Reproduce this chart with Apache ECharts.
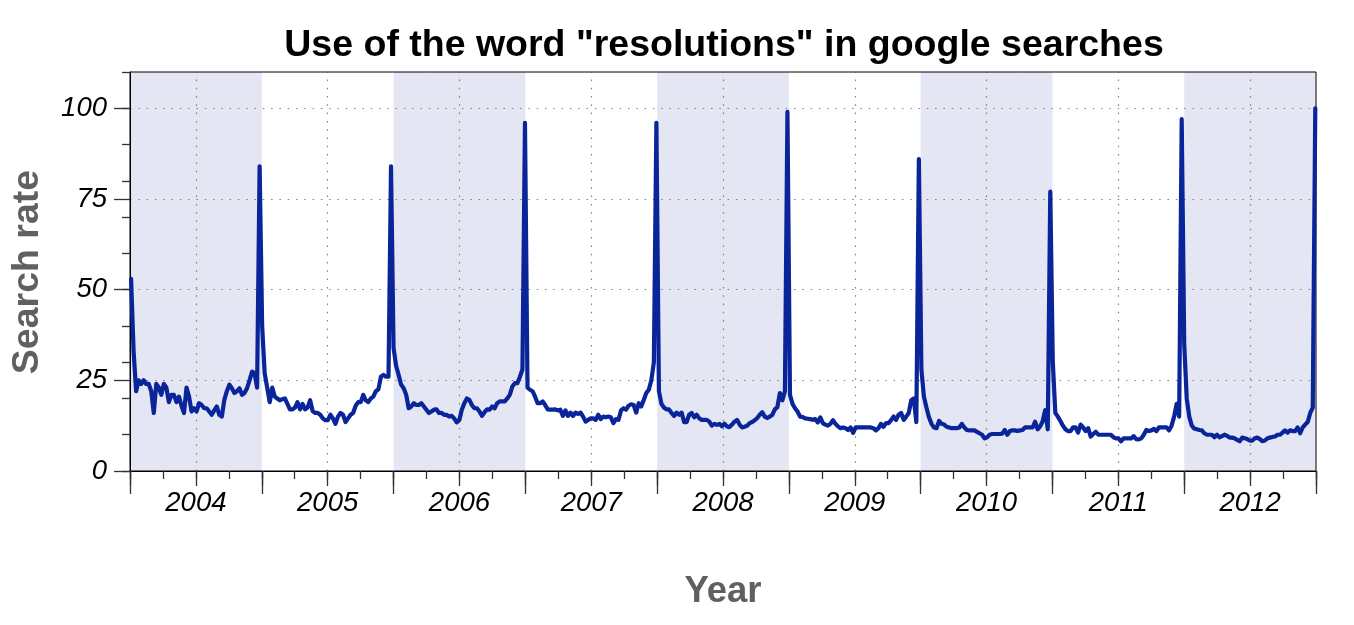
<!DOCTYPE html>
<html><head><meta charset="utf-8">
<script src="https://cdn.jsdelivr.net/npm/echarts@6/dist/echarts.min.js"></script>
<style>html,body{margin:0;padding:0;background:#fff}#c{width:1354px;height:625px}</style>
</head><body><div id="c"></div>
<script>
const chartTitle = 'Use of the word "resolutions" in google searches';
const xName = 'Year';
const yName = 'Search rate';
const firstWeek = [2004, 0, 4]; // week starting 2004-01-04, weekly data
const years = [2004, 2005, 2006, 2007, 2008, 2009, 2010, 2011, 2012];
const shadedYears = [2004, 2006, 2008, 2010, 2012];
const yTicks = [0, 25, 50, 75, 100];

const v2004 = [53,33,22,25,24,25,24,24,22,16,24,23,21,24,23,19,21,21,19,20.5,18,16,23,20.5,16.4,17.3,16.4,18.7,18.2,17.3,17.3,16.4,15.5,16.7,17.8,15.5,15,19.6,22,23.8,22.8,21.5,22,22.8,21,21.5,22.8,25,27.4,27,23,84];
const v2005 = [40,27,23,19,23,20.5,20,19.5,19.8,20,18.5,17,17,17.5,19,17,18.5,17,17.5,19.5,16.5,16,16,15.5,14.5,14,14,15.5,14.5,13,15,16,15.5,13.5,14.5,15.5,16,18,19,19,21,19.5,19,20,20.5,22,22.5,26,26.5,26,26,84];
const v2006 = [34,29,26.5,23.8,22.8,21,17.3,17.8,18.7,18.2,18.2,18.7,17.8,16.9,16,16.4,16.9,17,16,16,15.5,15.5,15,15.2,14.5,13.4,14,16.9,18.7,20,19.6,18.2,17.3,17.3,16.4,15.2,16.2,17,16.9,17.8,17.3,18.7,19.2,19.2,19.2,20,21,23.3,24.2,24.2,26,28,96];
const v2007 = [23,22.4,22,20.5,18.7,18.7,19.2,18.2,17,16.9,16.9,17,16.7,16.9,15.2,16.7,15.2,16.1,15.2,16.1,15.7,16.1,15,13.6,14.1,14.5,14.5,14.1,15.5,14.3,15,14.8,15,14.8,13.2,14.3,14.1,16.7,17.3,16.9,18,18.4,18.2,16.1,18.7,17.8,19.6,21.5,22.4,25,30,96];
const v2008 = [22,18.5,17.5,17,17,16,15.2,16.1,15.5,16.1,13.5,13.5,15.5,16,14.8,15.5,14.5,14.1,14.1,14.1,13.6,12.5,13,12.7,13,12.3,13,12.3,12.1,12.8,13.6,14.1,12.8,12,12.2,12.5,13.2,13.5,14,14.6,15.5,16.2,15,14.6,15,15.5,17,17.6,21.5,19.5,22,99];
const v2009 = [21,18.5,17.3,16.4,15,14.9,14.5,14.4,14.3,14.1,14.3,13.4,14.8,13.2,12.8,12.5,13,14,13,12.3,11.8,12,11.8,11.3,12,10.5,12,12,12,12,12,12,12,11.8,11.2,11.8,13,12.2,13.2,13.2,14,15,14.1,15.5,16,14.1,15,16,19.5,20,13.5,86];
const v2010 = [28,20.5,17.5,14.8,13,12,11.8,13.8,13,12.8,12.2,12,11.8,11.8,11.8,12,13,12,11.3,11.2,11.2,11.2,10.8,10.4,10,9,9.3,10,10.2,10.2,10.2,10.2,10.3,11.3,10,11,11.2,11.2,11,11.2,11.3,12,12,12,12,13.6,11.5,12.3,13.7,16.8,11.5,77];
const v2011 = [30,16,15,13.8,12.5,11.5,11,11,12,12,10.6,12.8,12,11,11.8,9.5,10.2,10.8,10,10,10,10,10,10,9.3,9,9,8.2,9,9,9,9,9.6,8.8,8.7,9,10,11.3,11,11.2,11.6,11,12,12,12,12,11.2,12.5,15,18.5,15,97];
const v2012 = [35,20,15,12.5,11.7,11.5,11.3,11.2,10.4,10,10,10,9.3,10,9.3,9.6,10,9.7,9.2,9.2,9,8.6,8.2,9.2,9,8.8,8.4,8.4,9,9.2,8.8,8.2,8.4,9,9.2,9.4,9.5,10,10,10.6,11.2,10.6,11.2,11,11,12,10.4,12,12.8,13.5,16,17.5,100];

const weekly = [].concat(v2004, v2005, v2006, v2007, v2008, v2009, v2010, v2011, v2012);
const DAY = 86400000;
const t0 = Date.UTC(firstWeek[0], firstWeek[1], firstWeek[2]);
function decYear(t) {
  const y = new Date(t).getUTCFullYear();
  const s = Date.UTC(y, 0, 1), e = Date.UTC(y + 1, 0, 1);
  return y + (t - s) / (e - s);
}
const seriesData = weekly.map((v, i) => [decYear(t0 + i * 7 * DAY), v]);

const xMin = years[0], xMax = years[years.length - 1] + 1;
const tickColor = '#333';
const labelFont = {fontFamily: 'Liberation Sans', fontStyle: 'italic', fontSize: 27.5, color: '#000'};
const dotted = {color: '#808080', width: 1.2, type: [1.5, 6.8]};

function xAxisDef(interval, len, labels, line) {
  return {
    type: 'value', min: xMin, max: xMax, interval: interval, position: 'bottom', z: 6,
    axisLine: {show: line, lineStyle: {color: '#000', width: 1}},
    axisTick: {show: true, length: len, lineStyle: {color: tickColor, width: 1.3}},
    axisLabel: labels ? Object.assign({show: true, margin: 19, formatter: v => {
      const f = v - Math.floor(v);
      return Math.abs(f - 0.5) < 1e-6 ? String(Math.floor(v)) : '';
    }}, labelFont) : {show: false},
    splitLine: {show: false}
  };
}

const chart = echarts.init(document.getElementById('c'), null, {renderer: 'canvas'});
chart.setOption({
  animation: false,
  grid: {left: 130, right: 38, top: 72, bottom: 154, show: true, z: 6,
         borderColor: '#000', borderWidth: 1, backgroundColor: 'transparent'},
  xAxis: [xAxisDef(1, 23, false, true), xAxisDef(0.5, 15, true, false), xAxisDef(0.25, 8, false, false)],
  yAxis: [
    {type: 'value', min: 0, max: 110, interval: 10, position: 'left', z: 6,
     axisLine: {show: true, lineStyle: {color: '#000', width: 1}},
     axisTick: {show: true, length: 8, lineStyle: {color: tickColor, width: 1.3}},
     axisLabel: {show: false}, splitLine: {show: false}},
    {type: 'value', min: 0, max: 110, interval: 25, position: 'left', z: 6,
     axisLine: {show: false},
     axisTick: {show: true, length: 16, customValues: yTicks, lineStyle: {color: tickColor, width: 1.3}},
     axisLabel: Object.assign({show: true, margin: 23, customValues: yTicks}, labelFont),
     splitLine: {show: true, lineStyle: dotted}}
  ],
  graphic: [
    {type: 'text', x: 724, y: 46, style: {text: chartTitle, fontFamily: 'Liberation Sans', fontWeight: 'bold', fontSize: 37.5, fill: '#000', textAlign: 'center', textVerticalAlign: 'middle'}},
    {type: 'text', x: 723, y: 592, style: {text: xName, fontFamily: 'Liberation Sans', fontWeight: 'bold', fontSize: 36.5, fill: '#606060', textAlign: 'center', textVerticalAlign: 'middle'}},
    {type: 'text', x: 28, y: 272, rotation: Math.PI / 2, style: {text: yName, fontFamily: 'Liberation Sans', fontWeight: 'bold', fontSize: 37.5, fill: '#606060', textAlign: 'center', textVerticalAlign: 'middle'}}
  ],
  series: [
    {type: 'line', name: 'bands', xAxisIndex: 0, yAxisIndex: 0, data: [], silent: true,
     markArea: {silent: true, itemStyle: {color: '#e4e6f3', opacity: 1},
       data: shadedYears.map(y => [{xAxis: y}, {xAxis: y + 1}])},
     markLine: {silent: true, symbol: 'none', label: {show: false}, lineStyle: dotted,
       data: years.map(y => ({xAxis: y + 0.5}))}},
    {type: 'line', name: 'resolutions', xAxisIndex: 0, yAxisIndex: 0, z: 10, data: seriesData,
     showSymbol: false, symbol: 'none', silent: true,
     lineStyle: {color: '#0a249a', width: 4.2, join: 'round', cap: 'round'}}
  ]
});
</script></body></html>
